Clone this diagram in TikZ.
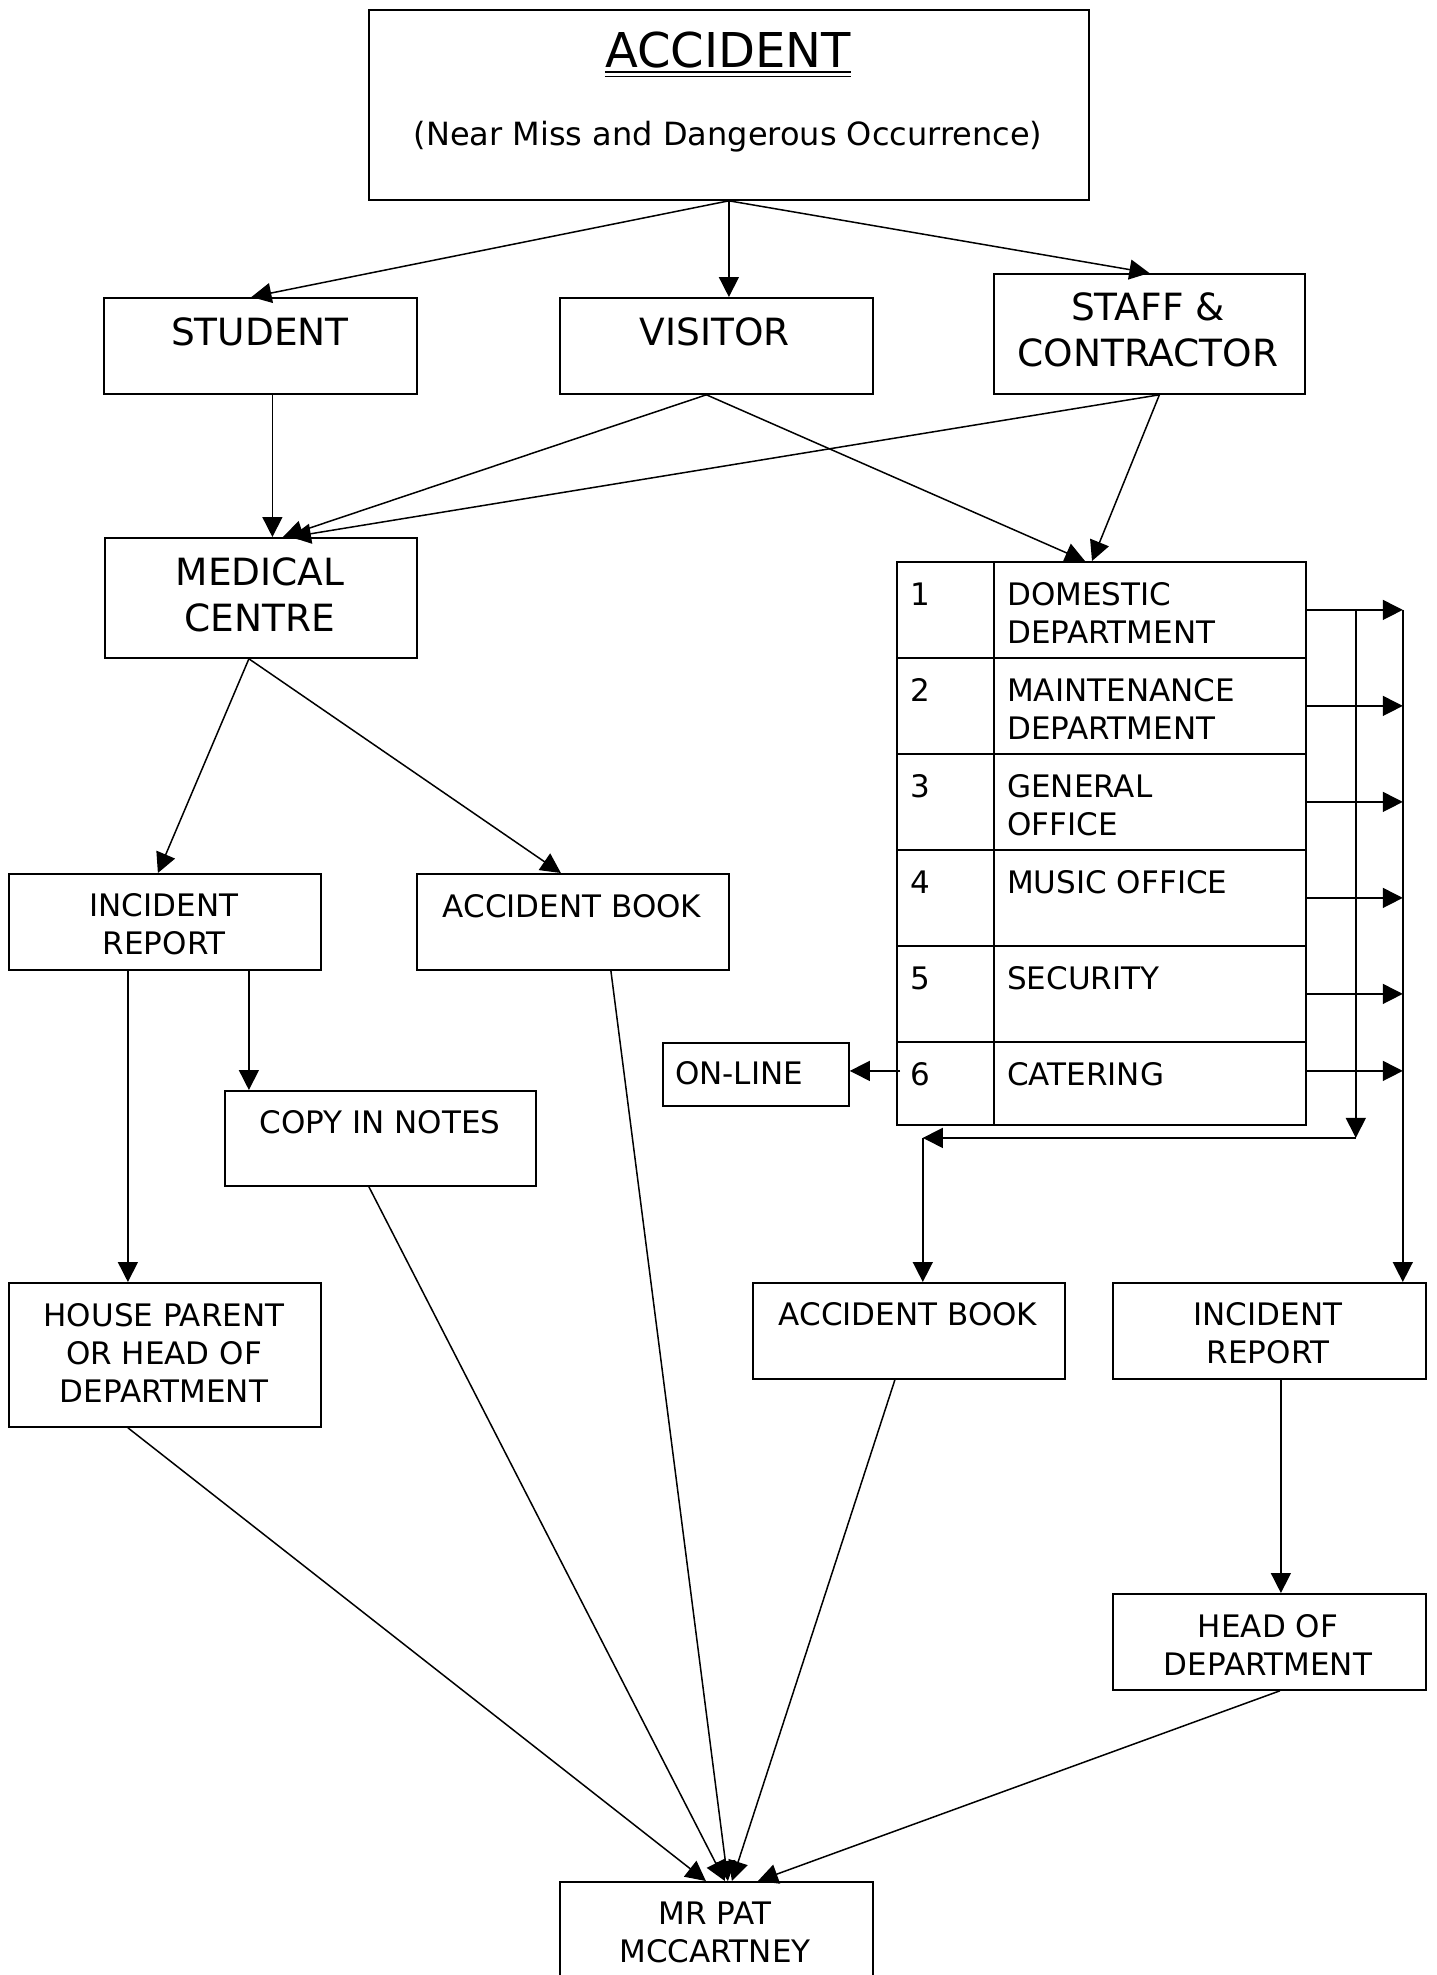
\documentclass[tikz,border=0pt]{standalone}
\usepackage{fontspec}
\setmainfont{DejaVu Sans}
\usetikzlibrary{arrows.meta,calc}
\begin{document}
\begin{tikzpicture}[x=1pt,y=-1pt,
  box/.style={draw,line width=1.8pt,inner sep=0pt,anchor=north west},
  big/.style={inner sep=0pt,align=center,font=\fontsize{37.5}{46}\selectfont},
  sml/.style={inner sep=0pt,align=center,font=\fontsize{31}{38}\selectfont},
  smll/.style={inner sep=0pt,align=left,anchor=west,font=\fontsize{31}{38}\selectfont},
  arr/.style={line width=1.5pt,-{Triangle[length=20pt,width=20pt]}},
]
\useasboundingbox (0,0) rectangle (1436,1975);
\fill[white] (0,0) rectangle (1436,1975);
\clip (0,0) rectangle (1436,1975);

% ---- boxes ----
\node[box,minimum width=720pt,minimum height=190pt] (acc) at (368,9) {};
\node[box,minimum width=313pt,minimum height=96pt] (student) at (103,297) {};
\node[box,minimum width=313pt,minimum height=96pt] (visitor) at (559,297) {};
\node[box,minimum width=311pt,minimum height=120pt] (staff) at (993,273) {};
\node[box,minimum width=312pt,minimum height=120pt] (medical) at (104,537) {};
\foreach \i/\t/\h in {1/561/96,2/657/96,3/753/96,4/849/96,5/945/96,6/1041/83} {
  \node[box,minimum width=97pt,minimum height=\h pt] (n\i) at (896,\t) {};
  \node[box,minimum width=312pt,minimum height=\h pt] (d\i) at (993,\t) {};
}
\node[box,minimum width=186pt,minimum height=63pt] (online) at (662,1042) {};
\node[box,minimum width=312pt,minimum height=96pt] (irep1) at (8,873) {};
\node[box,minimum width=312pt,minimum height=96pt] (abook1) at (416,873) {};
\node[box,minimum width=311pt,minimum height=95pt] (copy) at (224,1090) {};
\node[box,minimum width=312pt,minimum height=144pt] (house) at (8,1282) {};
\node[box,minimum width=312pt,minimum height=96pt] (abook2) at (752,1282) {};
\node[box,minimum width=313pt,minimum height=96pt] (irep2) at (1112,1282) {};
\node[box,minimum width=313pt,minimum height=96pt] (head) at (1112,1593) {};
\node[box,minimum width=313pt,minimum height=130pt] (mrpat) at (559,1881) {};

% ---- texts ----
\node[inner sep=0pt,font=\fontsize{48}{56}\selectfont] (acc-t) at (728,50) {ACCIDENT};
\draw[line width=2pt] ([yshift=-4pt]acc-t.south west) -- ([yshift=-4pt]acc-t.south east);
\draw[line width=1.3pt] ([yshift=-8pt]acc-t.south west) -- ([yshift=-8pt]acc-t.south east);
\node[inner sep=0pt,font=\fontsize{32}{38}\selectfont] (acc-s) at (728,137) {(Near Miss and Dangerous Occurrence)};
\node[big] (student-t) at (260,332) {STUDENT};
\node[big] (visitor-t) at (715,332) {VISITOR};
\node[big] (staff-t) at (1148,330) {STAFF \&\\CONTRACTOR};
\node[big] (medical-t) at (260,595) {MEDICAL\\CENTRE};
\foreach \i in {1,...,6} {
  \node[smll] (n\i-t) at ($(n\i.north west)+(14,33)$) {\i};
}
\node[smll] (d1-t) at ($(d1.north west)+(14,52)$) {DOMESTIC\\DEPARTMENT};
\node[smll] (d2-t) at ($(d2.north west)+(14,52)$) {MAINTENANCE\\DEPARTMENT};
\node[smll] (d3-t) at ($(d3.north west)+(14,52)$) {GENERAL\\OFFICE};
\node[smll] (d4-t) at ($(d4.north west)+(14,33)$) {MUSIC OFFICE};
\node[smll] (d5-t) at ($(d5.north west)+(14,33)$) {SECURITY};
\node[smll] (d6-t) at ($(d6.north west)+(14,33)$) {CATERING};
\node[smll] (online-t) at (675,1073) {ON-LINE};
\node[sml] (irep1-t) at (164,924.5) {INCIDENT\\REPORT};
\node[sml] (abook1-t) at (572,906) {ACCIDENT BOOK};
\node[sml] (copy-t) at (380,1122) {COPY IN NOTES};
\node[sml] (house-t) at (164,1353) {HOUSE PARENT\\OR HEAD OF\\DEPARTMENT};
\node[sml] (abook2-t) at (908,1314) {ACCIDENT BOOK};
\node[sml] (irep2-t) at (1268,1333.5) {INCIDENT\\REPORT};
\node[sml] (head-t) at (1268,1644.5) {HEAD OF\\DEPARTMENT};
\node[sml] (mrpat-t) at (715,1932) {MR PAT\\MCCARTNEY};

% ---- connectors ----
\draw[arr] (acc.south) -- ([xshift=-9pt]student.north);
\draw[arr] (acc.south) -- (acc.south |- visitor.north);
\draw[arr] (acc.south) -- (staff.north);
\draw[arr] ([xshift=12pt]student.south) -- ([xshift=12pt]student.south |- medical.north);
\draw[arr] ([xshift=-10pt]visitor.south) -- ([xshift=22pt]medical.north);
\draw[arr] ([xshift=10pt]staff.south) -- ([xshift=30pt]medical.north);
\draw[arr] ([xshift=-10pt]visitor.south) -- ([xshift=92pt]d1.north west);
\draw[arr] ([xshift=10pt]staff.south) -- ([xshift=99pt]d1.north west);
\draw[arr] ([xshift=-12pt]medical.south) -- ([xshift=-7pt]irep1.north);
\draw[arr] ([xshift=-12pt]medical.south) -- ([xshift=-12pt]abook1.north);
\draw[arr] ([xshift=-37pt]irep1.south) -- ([xshift=-37pt]irep1.south |- house.north);
\draw[arr] ([xshift=84pt]irep1.south) -- ([xshift=84pt]irep1.south |- copy.north);
\draw[arr] ([xshift=38pt]abook1.south) -- ([xshift=11.5pt]mrpat.north);
\draw[arr] ([xshift=-11.5pt]copy.south) -- ([xshift=8.5pt]mrpat.north);
\draw[arr] ([xshift=-37pt]house.south) -- ([xshift=-10.5pt]mrpat.north);
\draw[arr] ([xshift=-14pt]abook2.south) -- ([xshift=15.5pt]mrpat.north);
\draw[arr] ([xshift=10.5pt]head.south) -- ([xshift=41.5pt]mrpat.north);
\draw[arr] ([xshift=11.5pt]irep2.south) -- ([xshift=11.5pt]irep2.south |- head.north);

\coordinate (busA) at ($(d1.east)+(49,0)$);
\coordinate (busB) at ($(d1.east)+(96,0)$);
\coordinate (cornerA) at ($(busA)+(0,528)$);
\coordinate (cornerB) at ($(cornerA)+(-433,0)$);
\foreach \i in {1,...,5} {
  \draw[arr] (d\i.east) -- (d\i.east -| busB);
}
\draw[arr] ([yshift=12.5pt]d6.east) -- ([yshift=12.5pt]d6.east -| busB);
\draw[arr] (busB) -- (busB |- irep2.north);
\draw[arr] (busA) -- (cornerA);
\draw[arr] (cornerA) -- (cornerB);
\draw[arr] (cornerB) -- (cornerB |- abook2.north);
\draw[arr] ([xshift=4pt,yshift=12.5pt]n6.west) -- ([yshift=12.5pt]n6.west -| online.east);
\end{tikzpicture}
\end{document}
